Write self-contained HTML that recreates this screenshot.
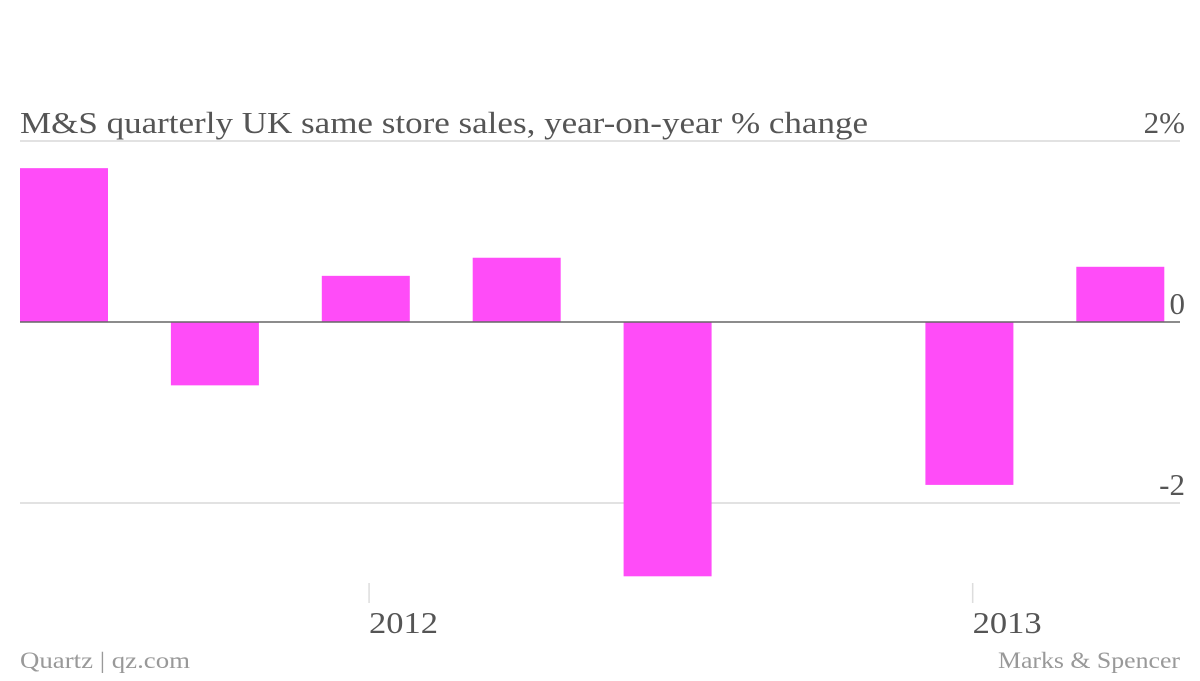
<!DOCTYPE html>
<html><head><meta charset="utf-8"><style>
body{margin:0;background:#fff;width:1200px;height:676px;overflow:hidden;font-family:"Liberation Serif",serif}
svg text{font-family:"Liberation Serif",serif}
</style></head><body>
<svg id="chart" width="1200" height="676" xmlns="http://www.w3.org/2000/svg">
<text x="20" y="133" font-size="31" fill="#555" textLength="848" lengthAdjust="spacingAndGlyphs">M&amp;S quarterly UK same store sales, year-on-year % change</text>
<g id="grid"></g>
<g id="bars"></g>
<line x1="20" x2="1180" y1="322" y2="322" stroke="#666" stroke-width="1.5"/>
<g id="xaxis"></g>
<text x="20" y="668" font-size="23" fill="#999" textLength="170" lengthAdjust="spacingAndGlyphs">Quartz | qz.com</text>
<text x="998" y="668" font-size="23" fill="#999" textLength="182" lengthAdjust="spacingAndGlyphs">Marks &amp; Spencer</text>
</svg>
<script>
const quarters=["Q4 2011a","Q4 2011b","Q1 2012","Q2 2012","Q3 2012","Q4 2012","Q1 2013","Q2 2013"];
const values=[1.70,-0.70,0.51,0.71,-2.81,null,-1.80,0.61];
const yTicks=[2,0,-2];
const yTickLabels=["2%","0","-2"];
const xTickIndex=[2.3,6.3];
const xTickLabels=["2012","2013"];
const NS="http://www.w3.org/2000/svg";
function y(v){return 322-v*90.5;}
function x(i){return 20+i*150.9;}
const bw=88;
const grid=document.getElementById('grid');
yTicks.forEach((t,k)=>{
 if(t!==0){const l=document.createElementNS(NS,'line');
 
 
 l.setAttribute('x1',20);l.setAttribute('x2',1180);l.setAttribute('y1',y(t));l.setAttribute('y2',y(t));
 l.setAttribute('stroke','#e2e2e2');l.setAttribute('stroke-width','2');grid.appendChild(l);}
 const tx=document.createElementNS(NS,'text');
 
 
 tx.setAttribute('x',1185);tx.setAttribute('y',y(t)-8);
 tx.setAttribute('text-anchor','end');tx.setAttribute('font-size','31');tx.setAttribute('fill','#555');
 tx.textContent=yTickLabels[k];grid.appendChild(tx);
});
const bars=document.getElementById('bars');
values.forEach((v,i)=>{
 if(v===null)return;
 const r=document.createElementNS(NS,'rect');
 
 
 r.setAttribute('x',x(i));r.setAttribute('width',bw);
 r.setAttribute('y',Math.min(y(v),y(0)));r.setAttribute('height',Math.abs(y(v)-y(0)));
 r.setAttribute('fill','#ff4cf8');bars.appendChild(r);
});
const xa=document.getElementById('xaxis');
xTickIndex.forEach((p,k)=>{
 const px=x(p)+2;
 const l=document.createElementNS(NS,'line');
 
 
 l.setAttribute('x1',px);l.setAttribute('x2',px);l.setAttribute('y1',583);l.setAttribute('y2',603);
 l.setAttribute('stroke','#ddd');l.setAttribute('stroke-width','1.5');xa.appendChild(l);
 const t=document.createElementNS(NS,'text');
 
 
 t.setAttribute('x',px);t.setAttribute('y',633);t.setAttribute('font-size','31');t.setAttribute('fill','#555');
 t.setAttribute('textLength','69');t.setAttribute('lengthAdjust','spacingAndGlyphs');
 t.textContent=xTickLabels[k];xa.appendChild(t);
});
</script>
</body></html>
